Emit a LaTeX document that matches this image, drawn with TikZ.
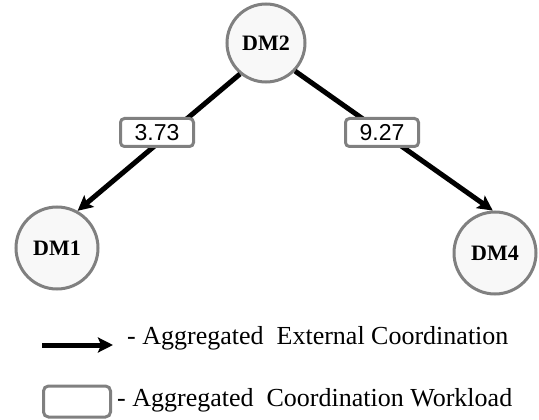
\documentclass[tikz,border=0pt]{standalone}
\usepackage{fontspec}
\setmainfont{Liberation Serif}
\setsansfont{Liberation Sans}
\usetikzlibrary{arrows.meta}
\definecolor{bordergray}{RGB}{128,128,128}
\definecolor{nodefill}{RGB}{248,248,248}
\tikzset{
  dmnode/.style={circle, draw=bordergray, line width=3pt, fill=nodefill, minimum size=82pt, inner sep=0pt,
    font=\fontsize{22}{24}\selectfont\bfseries},
  wlbox/.style={rectangle, rounded corners=4pt, draw=bordergray, line width=3pt, fill=white,
    minimum width=73pt, minimum height=28pt, inner sep=0pt, font=\sffamily\fontsize{23}{25}\selectfont},
  coord/.style={line width=5pt, -{Stealth[length=15pt,width=15pt,inset=3pt]}},
  legtext/.style={anchor=base west, inner sep=0pt, font=\fontsize{26}{28}\selectfont}
}
\begin{document}
\begin{tikzpicture}[x=1pt,y=-1pt]
\useasboundingbox (0,0) rectangle (539,420);
\node[dmnode, minimum size=78pt] (dm2) at (266,43) {DM2};
\node[dmnode] (dm1) at (57,248) {DM1};
\node[dmnode] (dm4) at (495,253) {DM4};
\draw[coord] (dm2.230) -- (dm1.61);
\draw[coord] (dm2.316) -- (dm4.93);
\node[wlbox] (w1) at (157,132.5) {3.73};
\node[wlbox] (w2) at (382,132.5) {9.27};
\coordinate (la) at (42,345);
\coordinate (lb) at (113,345);
\draw[coord] (la) -- (lb);
\node[legtext] (t1) at (127,344) {- Aggregated\ \ External Coordination};
\node[rectangle, rounded corners=5pt, draw=bordergray, line width=3pt, fill=white, minimum width=67pt, minimum height=31pt, inner sep=0pt] (lbox) at (77,401.5) {};
\node[legtext] (t2) at (117,406) {- Aggregated\ \ Coordination Workload};
\end{tikzpicture}
\end{document}
